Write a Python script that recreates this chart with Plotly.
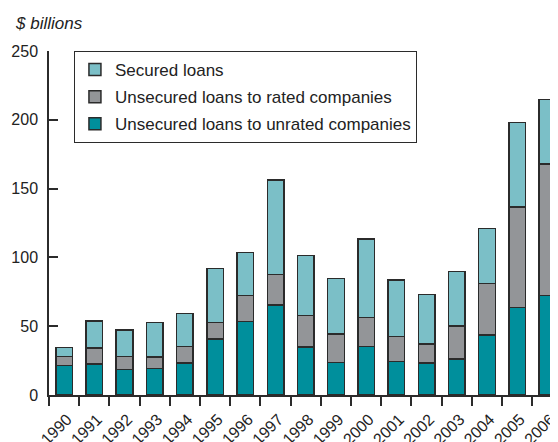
import plotly.graph_objects as go

years = list(range(1990, 2007))
year_labels = [str(y) for y in years]

# $ billions (stack order bottom -> top)
unrated = [21.5, 22.7, 18.6, 19.3, 23.2, 40.6, 53.6, 65.5, 34.8, 23.7, 35.3, 24.2, 23.2, 26.3, 43.5, 63.5, 72.2]
rated = [6.5, 11.3, 9.4, 8.2, 12.1, 12.1, 18.6, 22.0, 22.9, 20.7, 21.2, 18.3, 14.0, 23.9, 37.4, 73.2, 95.7]
secured = [6.5, 19.9, 19.1, 25.2, 23.9, 39.1, 31.4, 68.6, 43.7, 40.1, 57.0, 41.1, 36.0, 39.7, 40.1, 61.3, 46.8]

boundaries = [y - 0.5 for y in years] + [years[-1] + 0.5]

FONT = "Liberation Sans, Arial, sans-serif"
INK = "#2b2b2b"

# (name, values, colour, legend position)
series = [
    ("Unsecured loans to unrated companies", unrated, "#008f9c", 3),
    ("Unsecured loans to rated companies", rated, "#939598", 2),
    ("Secured loans", secured, "#7bbfc7", 1),
]

fig = go.Figure()
for name, vals, color, rank in series:
    fig.add_trace(go.Bar(
        x=years, y=vals, name=name, legendgroup=name, legendrank=rank,
        marker=dict(color=color, line=dict(color=INK, width=1.5)),
        width=0.55,
    ))

# page body adds an 8px margin, so the figure is 8px smaller and shifted
fig.update_layout(
    width=550, height=434,
    margin=dict(l=41, r=0, t=43, b=47),
    barmode="stack",
    plot_bgcolor="white", paper_bgcolor="white",
    font=dict(family=FONT, size=16, color="#222"),
    showlegend=True,
    legend=dict(
        x=0.049, y=1.0, xanchor="left", yanchor="top",
        traceorder="grouped", tracegroupgap=2,
        bgcolor="white", bordercolor=INK, borderwidth=1,
        font=dict(size=17, family=FONT, color="#222"),
    ),
    xaxis=dict(
        range=[1989.5, 2006.35], automargin=False,
        tickmode="array", tickvals=years, ticktext=year_labels,
        tickangle=-45, ticks="", showgrid=False, zeroline=False,
        showline=True, linecolor=INK, linewidth=1.5,
        tickfont=dict(size=16), ticklabelstandoff=7, ticklabelshift=3,
        ticklabeloverflow="allow",
        minor=dict(tickmode="array", tickvals=boundaries, ticks="outside",
                   ticklen=9, tickwidth=1.5, tickcolor=INK, showgrid=False),
    ),
    xaxis2=dict(
        overlaying="x", matches="x", anchor="y", side="bottom",
        tickmode="array", tickvals=boundaries, ticks="inside",
        ticklen=5, tickwidth=1.5, tickcolor=INK, automargin=False,
        showticklabels=False, showline=False, showgrid=False, zeroline=False,
    ),
    yaxis=dict(
        range=[0, 250], tickvals=[0, 50, 100, 150, 200, 250], automargin=False,
        ticks="inside", ticklen=9, tickwidth=1.5, tickcolor=INK,
        showline=True, linecolor=INK, linewidth=1.5,
        showgrid=False, zeroline=False, ticklabelstandoff=6,
        tickfont=dict(size=16),
    ),
)

fig.add_annotation(
    text="<i>$ billions</i>", xref="paper", yref="paper",
    x=0, y=1, xshift=-36, yshift=28, xanchor="left", yanchor="middle",
    showarrow=False, font=dict(size=17, family=FONT, color="#222"),
)

fig.write_html("out.html")
